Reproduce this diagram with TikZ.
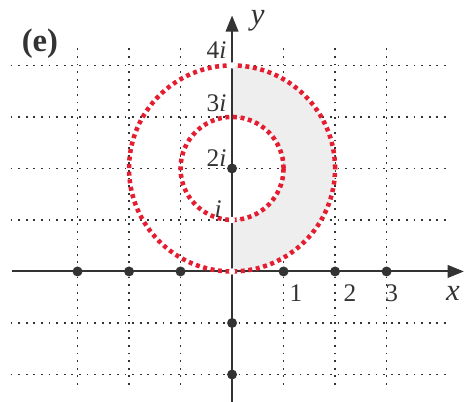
\documentclass[tikz,border=0pt]{standalone}
\usepackage{fontspec}
\setmainfont{Liberation Serif}
\usepackage{xcolor}
\usepackage{tikz}
\usetikzlibrary{arrows.meta, positioning}
\definecolor{ringred}{RGB}{228,30,48}

\begin{document}
\begin{tikzpicture}[
  x=1cm, y=1cm,
  gridline/.style={line width=1pt, dash pattern=on 1pt off 3.2pt, black!80},
  axisline/.style={line width=1.1pt, black!80},
  ringline/.style={ringred, line width=2.5pt, dash pattern=on 2.2pt off 2pt},
  ptdot/.style={circle, fill=black!80, inner sep=0pt, minimum size=5.5pt},
  openpt/.style={circle, fill=white, inner sep=0pt, minimum size=3.5pt},
  lbl/.style={font=\fontsize{14}{16}\selectfont, text=black!80, inner sep=0pt}
]
\useasboundingbox (-4.505,-2.53) rectangle (4.6,5.27);

% grid
\foreach \gy in {-2,-1,1,2,3,4}
  \draw[gridline] (-4.3,\gy) -- (4.2,\gy);
\foreach \gx in {-3,-2,-1,1,2,3}
  \draw[gridline] (\gx,-2.2) -- (\gx,4.35);

% shaded half ring
\fill[gray!13] (0,4) arc[start angle=90, end angle=-90, radius=2]
  -- (0,1) arc[start angle=-90, end angle=90, radius=1] -- cycle;

% axes
\coordinate (xstart) at (-4.27,0);
\coordinate (xend) at (4.5,0);
\coordinate (ystart) at (0,-2.55);
\coordinate (yend) at (0,4.97);
\draw[axisline, -{Triangle[length=9pt, width=7pt]}] (xstart) -- (xend);
\draw[axisline, -{Triangle[length=9pt, width=7pt]}] (ystart) -- (yend);

% rings
\coordinate (ctr) at (0,2);
\draw[ringline] (ctr) circle[radius=2];
\draw[ringline] (ctr) circle[radius=1];

% points on the axes
\foreach \px in {-3,-2,-1,1,2,3}
  \node[ptdot] (px\px) at (\px,0) {};
\foreach \py in {2,-1,-2}
  \node[ptdot] (py\py) at (0,\py) {};
\foreach \oy in {0,1,4}
  \node[openpt] (op\oy) at (0,\oy) {};

% labels
\node[lbl] (l4) at (-0.3,4.3) {4\textit{i}};
\node[lbl] (l3) at (-0.3,3.27) {3\textit{i}};
\node[lbl] (l2) at (-0.3,2.2) {2\textit{i}};
\node[lbl] (l1) at (-0.27,1.22) {\textit{i}};
\node[lbl] (n1) at (1.24,-0.42) {1};
\node[lbl] (n2) at (2.29,-0.42) {2};
\node[lbl] (n3) at (3.1,-0.42) {3};
\node[lbl, font=\fontsize{17}{19}\selectfont] (xl) at (4.29,-0.42) {\textit{x}};
\node[lbl, font=\fontsize{17}{19}\selectfont] (yl) at (0.5,4.86) {\textit{y}};
\node[lbl, font=\fontsize{18}{20}\selectfont\bfseries] (tag) at (-3.73,4.42) {(e)};

\end{tikzpicture}
\end{document}
